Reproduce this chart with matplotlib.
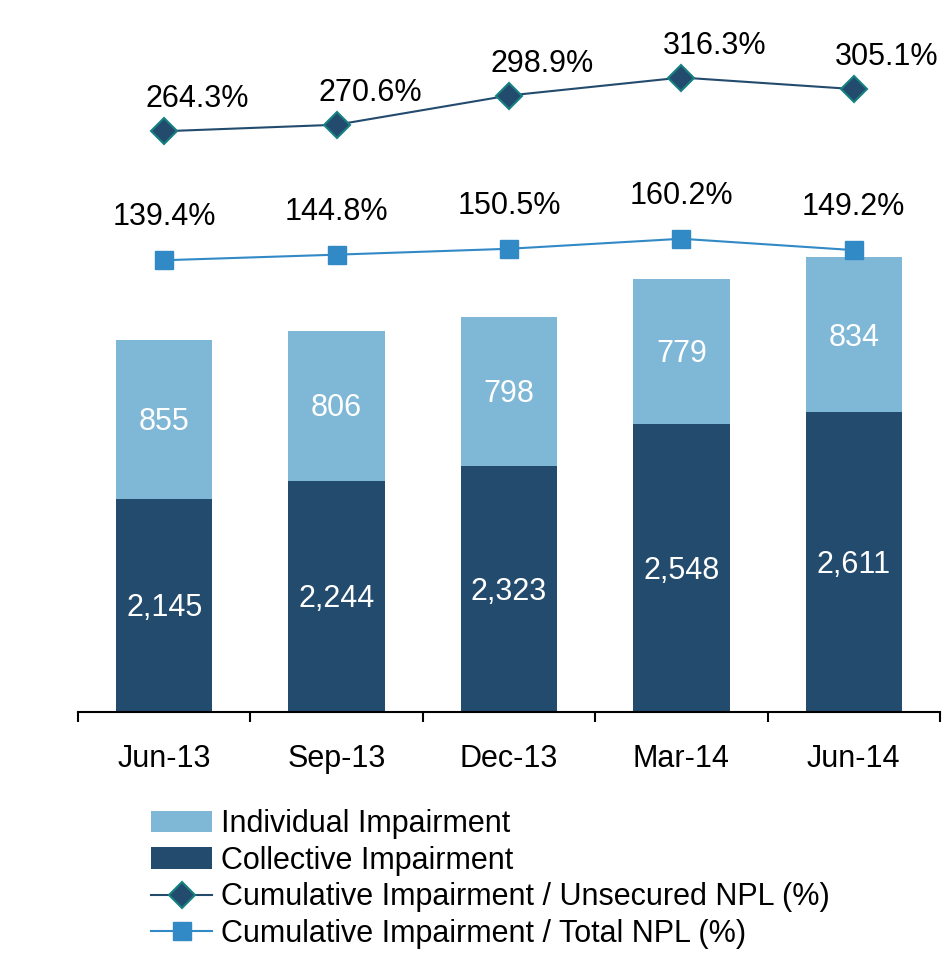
import matplotlib.pyplot as plt
import numpy as np

plt.rcParams['font.family'] = ['Liberation Sans', 'DejaVu Sans']

# Data
quarters = ["Jun-13", "Sep-13", "Dec-13", "Mar-14", "Jun-14"]
collective = [2145, 2244, 2323, 2548, 2611]
individual = [855, 806, 798, 779, 834]
ratio_unsecured = [264.3, 270.6, 298.9, 316.3, 305.1]
ratio_total = [139.4, 144.8, 150.5, 160.2, 149.2]

light_blue = '#7FB7D7'
dark_blue = '#234B6E'
square_blue = '#3189C6'
teal = '#178080'

fig = plt.figure(figsize=(9.47, 9.59), dpi=100)
ax = fig.add_axes([78 / 947, 1 - 712 / 959, 862 / 947, 692 / 959])
x = np.arange(len(quarters))

# Stacked bars
ax.bar(x, collective, width=0.56, color=dark_blue, label='Collective Impairment', zorder=2)
ax.bar(x, individual, width=0.56, bottom=collective, color=light_blue,
       label='Individual Impairment', zorder=2)

for i in range(len(x)):
    ax.annotate(f"{collective[i]:,}", (x[i], (1000 + collective[i]) / 2), xytext=(0, -2),
                textcoords='offset points', ha='center', va='center', color='white', fontsize=22)
    ax.annotate(f"{individual[i]:,}", (x[i], collective[i] + individual[i] / 2), xytext=(0, -2),
                textcoords='offset points', ha='center', va='center', color='white', fontsize=22)

ax.set_ylim(1000, 4720)
ax.set_xlim(-0.5, 4.5)
ax.set_yticks([])
for s in ['top', 'right', 'left']:
    ax.spines[s].set_visible(False)
ax.spines['bottom'].set_linewidth(1.5)

ax.set_xticks(x)
ax.set_xticklabels(quarters, fontsize=22)
ax.tick_params(axis='x', which='major', length=0, pad=23)
ax.set_xticks(np.arange(-0.5, 5, 1), minor=True)
ax.tick_params(axis='x', which='minor', length=7, width=1.5, direction='out')

# Ratio lines on a secondary axis
ax2 = ax.twinx()
ax2.set_ylim(-298, 372)
ax2.axis('off')
l1, = ax2.plot(x, ratio_unsecured, color=dark_blue, lw=1.5, marker='D', markersize=13,
               markerfacecolor=dark_blue, markeredgecolor=teal, markeredgewidth=1.5,
               label='Cumulative Impairment / Unsecured NPL (%)')
l2, = ax2.plot(x, ratio_total, color=square_blue, lw=1.5, marker='s', markersize=13.5,
               markerfacecolor=square_blue, markeredgecolor=square_blue,
               label='Cumulative Impairment / Total NPL (%)')

for i in range(len(x)):
    ax2.annotate(f"{ratio_unsecured[i]:.1f}%", (x[i], ratio_unsecured[i]), xytext=(24, 23),
                 textcoords='offset points', ha='center', va='center', fontsize=22)
    ax2.annotate(f"{ratio_total[i]:.1f}%", (x[i], ratio_total[i]), xytext=(0, 31),
                 textcoords='offset points', ha='center', va='center', fontsize=22)

handles, labels = ax.get_legend_handles_labels()
fig.legend([handles[1], handles[0], l1, l2], [labels[1], labels[0], l1.get_label(), l2.get_label()],
           loc='upper left', bbox_to_anchor=(151 / 947, 1 - 809 / 959), frameon=False,
           fontsize=22, borderpad=0, borderaxespad=0, handlelength=2.0, handletextpad=0.3,
           labelspacing=0.22)

fig.savefig('out.png', dpi=100)
